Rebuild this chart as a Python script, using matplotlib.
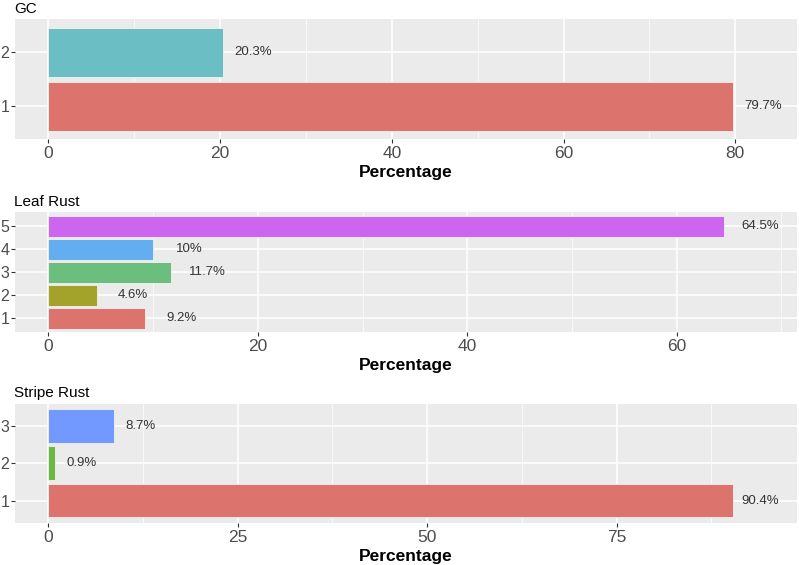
import matplotlib.pyplot as plt
from matplotlib.ticker import MultipleLocator

# data
gc_levels = ["1", "2"]
gc_values = [79.7, 20.3]
gc_colors = ["#DC736C", "#6BBEC4"]

leaf_levels = ["1", "2", "3", "4", "5"]
leaf_values = [9.2, 4.6, 11.7, 10.0, 64.5]
leaf_colors = ["#DC736C", "#A3A22A", "#6BBE7E", "#62AEF0", "#CC66EE"]

stripe_levels = ["1", "2", "3"]
stripe_values = [90.4, 0.9, 8.7]
stripe_colors = ["#DC736C", "#6CB847", "#7299FF"]

plt.rcParams['font.family'] = ['Liberation Sans', 'DejaVu Sans']

fig = plt.figure(figsize=(7.99, 5.65), dpi=100)

panels = [
    ("GC", gc_levels, gc_values, gc_colors, 0.754, (-3.9, 87.2), 20, 10),
    ("Leaf Rust", leaf_levels, leaf_values, leaf_colors, 0.4124, (-3.2, 71.5), 20, 10),
    ("Stripe Rust", stripe_levels, stripe_values, stripe_colors, 0.0743, (-4.4, 98.8), 25, 12.5),
]

for title, levels, values, colors, bottom, xlim, major, minor in panels:
    ax = fig.add_axes([15 / 799, bottom, 782 / 799, 0.2115])
    ax.set_facecolor("#EBEBEB")
    pos = list(range(1, len(levels) + 1))
    ax.barh(pos, values, height=0.9, color=colors, edgecolor="#F2F2F2", linewidth=0.6, zorder=3)
    for p, v in zip(pos, values):
        lab = "{:g}%".format(v)
        ax.text(v + 3.5, p, lab, ha="center", va="center", fontsize=9.5, color="#333333", zorder=4)
    ax.set_xlim(*xlim)
    ax.set_ylim(0.4, len(levels) + 0.6)
    ax.set_yticks(pos)
    ax.set_yticklabels(levels)
    ax.xaxis.set_major_locator(MultipleLocator(major))
    ax.xaxis.set_minor_locator(MultipleLocator(minor))
    ax.grid(True, which="major", color="white", linewidth=1.1, zorder=0)
    ax.grid(True, which="minor", axis="x", color="white", linewidth=0.5, zorder=0)
    ax.set_axisbelow(True)
    for s in ax.spines.values():
        s.set_visible(False)
    ax.tick_params(axis="x", which="major", length=3, color="#333333", labelcolor="#4D4D4D", labelsize=12.5, pad=2)
    ax.tick_params(axis="y", which="major", length=3, color="#333333", labelcolor="#4D4D4D", labelsize=11.5, pad=1)
    ax.tick_params(axis="x", which="minor", length=0)
    ax.set_xlabel("Percentage", fontsize=12.5, fontweight="bold", labelpad=3)
    fig.text(0.0175, bottom + 0.2115 + 0.007, title, fontsize=11, ha="left", va="bottom", color="black")

fig.savefig("out.png", dpi=100)
